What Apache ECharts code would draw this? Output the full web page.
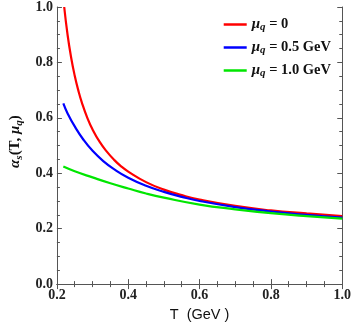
<!DOCTYPE html>
<html>
<head>
<meta charset="utf-8">
<script src="https://cdn.jsdelivr.net/npm/echarts@6/dist/echarts.min.js"></script>
<style>
  html, body { margin: 0; padding: 0; background: #fff; }
  #chart { width: 354px; height: 327px; }
</style>
</head>
<body>
<div id="chart"></div>
<script>
// values
const tRed = [0.2205, 0.23, 0.24, 0.25, 0.26, 0.27, 0.285, 0.3, 0.32, 0.34, 0.36, 0.38, 0.4, 0.45, 0.5, 0.55, 0.6, 0.7, 0.8, 0.9, 1.0];
const vRed = [1.0, 0.899, 0.817, 0.752, 0.699, 0.655, 0.601, 0.558, 0.513, 0.478, 0.449, 0.425, 0.406, 0.368, 0.341, 0.321, 0.305, 0.282, 0.266, 0.255, 0.245];

const tBlue = [0.218, 0.23, 0.25, 0.275, 0.3, 0.33, 0.36, 0.4, 0.45, 0.5, 0.55, 0.6, 0.7, 0.8, 0.9, 1.0];
const vBlue = [0.652, 0.616, 0.569, 0.52, 0.481, 0.444, 0.415, 0.384, 0.355, 0.333, 0.315, 0.3, 0.278, 0.262, 0.25, 0.24];

const tGreen = [0.218, 0.25, 0.3, 0.35, 0.4, 0.45, 0.5, 0.6, 0.7, 0.8, 0.9, 1.0];
const vGreen = [0.424, 0.407, 0.385, 0.364, 0.345, 0.327, 0.312, 0.287, 0.27, 0.256, 0.245, 0.236];

const seriesNames = ["mu0", "mu05", "mu10"];
const legendTexts = ["{m|μ}{s|q}{t| = 0}", "{m|μ}{s|q}{t| = 0.5 GeV}", "{m|μ}{s|q}{t| = 1.0 GeV}"];
const xTicks = [0.2, 1.0, 0.2];
const yTicks = [0, 1.0, 0.2];

function pairs(t, v) {
  return t.map((x, i) => [x, v[i]]);
}

const chart = echarts.init(document.getElementById("chart"));
const serif = "Liberation Serif";
const axisColor = "#555";

function axisBase(show) {
  return {
    type: "value",
    axisLine: { show: true, lineStyle: { color: axisColor, width: 1 } },
    axisTick: { show: true, inside: true, length: 5, lineStyle: { color: axisColor } },
    minorTick: { show: true, splitNumber: 4, length: 3, lineStyle: { color: axisColor } },
    splitLine: { show: false },
    axisLabel: {
      show: show,
      margin: 4,
      fontFamily: serif,
      fontWeight: "bold",
      fontSize: 14,
      color: "#222",
      formatter: (v) => v.toFixed(1),
    },
  };
}

const option = {
  animation: false,
  backgroundColor: "#fff",
  grid: { left: 44, right: 10, top: 6, bottom: 41, containLabel: false },
  legend: {
    orient: "vertical",
    right: 18,
    top: 12,
    itemGap: 7,
    icon: "rect",
    itemWidth: 23,
    itemHeight: 2.5,
    data: seriesNames,
    formatter: (name) => legendTexts[seriesNames.indexOf(name)],
    textStyle: {
      fontFamily: serif,
      fontWeight: "bold",
      fontSize: 14,
      color: "#111",
      rich: {
        m: { fontFamily: serif, fontWeight: "bold", fontStyle: "italic", fontSize: 15 },
        s: { fontFamily: serif, fontWeight: "bold", fontStyle: "italic", fontSize: 11, verticalAlign: "bottom", padding: [6, 0, 0, 0] },
        t: { fontFamily: serif, fontWeight: "bold", fontSize: 14.5 },
      },
    },
  },
  xAxis: [
    Object.assign(axisBase(true), {
      min: xTicks[0], max: xTicks[1], interval: xTicks[2],
      position: "bottom",
      name: "T  (GeV )",
      nameLocation: "middle",
      nameGap: 22,
      nameTextStyle: { fontFamily: "Liberation Sans", fontSize: 14.5, color: "#111" },
    }),
    Object.assign(axisBase(false), {
      min: xTicks[0], max: xTicks[1], interval: xTicks[2],
      position: "top",
    }),
  ],
  yAxis: [
    Object.assign(axisBase(true), {
      min: yTicks[0], max: yTicks[1], interval: yTicks[2],
      position: "left",
      name: "{a|α}{s|s}{b|(T, }{a|μ}{s|q}{b|)}",
      nameLocation: "middle",
      nameGap: 24,
      nameRotate: 90,
      nameTextStyle: {
        color: "#111",
        padding: [0, 0, 0, 8],
        rich: {
          a: { fontFamily: serif, fontStyle: "italic", fontWeight: "bold", fontSize: 15 },
          b: { fontFamily: serif, fontWeight: "bold", fontSize: 15 },
          s: { fontFamily: serif, fontStyle: "italic", fontWeight: "bold", fontSize: 11, verticalAlign: "bottom", padding: [7, 0, 0, 0] },
        },
      },
    }),
    Object.assign(axisBase(false), {
      min: yTicks[0], max: yTicks[1], interval: yTicks[2],
      position: "right",
    }),
  ],
  series: [
    { name: seriesNames[0], type: "line", data: pairs(tRed, vRed), smooth: 0.5, showSymbol: false, color: "#ff0000", lineStyle: { width: 2.2 } },
    { name: seriesNames[1], type: "line", data: pairs(tBlue, vBlue), smooth: 0.5, showSymbol: false, color: "#0000ff", lineStyle: { width: 2.2 } },
    { name: seriesNames[2], type: "line", data: pairs(tGreen, vGreen), smooth: 0.5, showSymbol: false, color: "#00e600", lineStyle: { width: 2.2 } },
  ],
};

chart.setOption(option);
</script>
</body>
</html>
